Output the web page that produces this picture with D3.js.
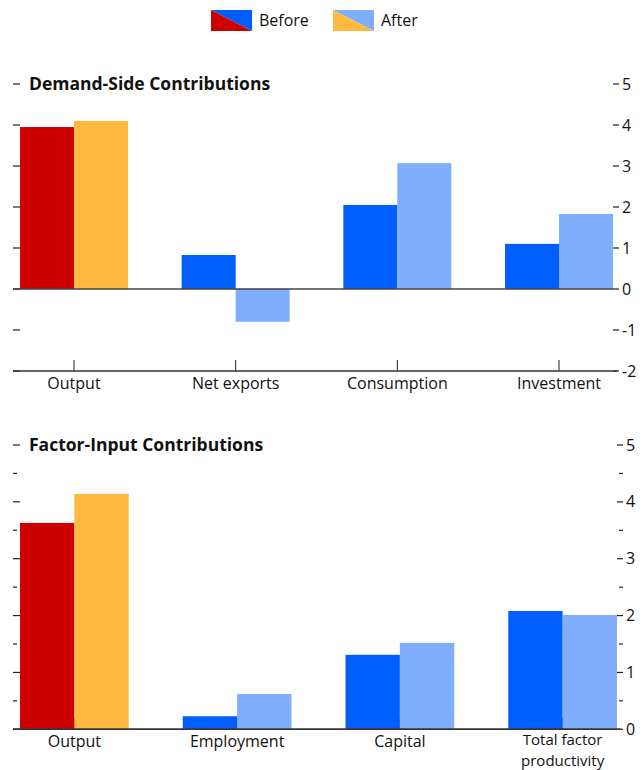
<!DOCTYPE html>
<html><head><meta charset="utf-8">
<script src="https://cdn.jsdelivr.net/npm/d3@7"></script>
<style>body{margin:0;background:#fff}svg{display:block}text{font-family:"Open Sans",sans-serif;fill:#111}</style>
</head><body>
<script>
const seriesNames = ["Before", "After"];
const demandCats = ["Output", "Net exports", "Consumption", "Investment"];
const demandBefore = [3.95, 0.83, 2.05, 1.1];
const demandAfter = [4.1, -0.8, 3.07, 1.83];
const factorCats = ["Output", "Employment", "Capital", "Total factor|productivity"];
const factorBefore = [3.63, 0.23, 1.31, 2.08];
const factorAfter = [4.14, 0.62, 1.52, 2.01];
const demandTicks = [-2, -1, 0, 1, 2, 3, 4, 5];
const factorTicks = [0, 1, 2, 3, 4, 5];
const factorMinor = [0.5, 1.5, 2.5, 3.5, 4.5];

const C = {red:"#CC0000", orange:"#FFB940", blue:"#005EFF", lblue:"#80AEFF"};

const W = 644, H = 770;
const svg = d3.select("body").append("svg").attr("width", W).attr("height", H);

// legend
const leg = svg.append("g");
[[211, C.red, C.blue, "Before"], [333, C.orange, C.lblue, "After"]].forEach(([x, c1, c2, t]) => {
  const w = 41, h = 21, y = 10;
  leg.append("polygon").attr("points", `${x},${y} ${x+w},${y} ${x+w},${y+h}`).attr("fill", c2);
  leg.append("polygon").attr("points", `${x},${y} ${x},${y+h} ${x+w},${y+h}`).attr("fill", c1);
  leg.append("text").attr("x", x + w + 7).attr("y", y + h/2).attr("dy", "0.35em")
    .attr("font-size", 16).text(t);
});

function panel(opt) {
  const g = svg.append("g");
  const x = d3.scaleBand().domain(opt.cats).range([20, opt.right]).paddingInner(0.332).paddingOuter(0);
  const y = d3.scaleLinear().domain(opt.domain).range([opt.bottom, opt.top]);
  const sub = d3.scaleBand().domain(seriesNames).range([0, x.bandwidth()]);

  // title
  g.append("text").attr("x", 29).attr("y", y(5)).attr("dy", "0.35em")
    .attr("font-size", 17.5).attr("font-weight", "bold").text(opt.title);

  // category ticks (behind bars)
  g.selectAll(".ct").data(opt.cats).join("line")
    .attr("x1", d => x(d) + x.bandwidth()/2).attr("x2", d => x(d) + x.bandwidth()/2)
    .attr("y1", opt.bottom - 11).attr("y2", opt.bottom).attr("stroke", "#222").attr("stroke-width", 1);

  // bars
  opt.cats.forEach((c, i) => {
    [[opt.before[i], "Before", i === 0 ? C.red : C.blue], [opt.after[i], "After", i === 0 ? C.orange : C.lblue]].forEach(([v, s, col]) => {
      g.append("rect").attr("x", x(c) + sub(s)).attr("width", sub.bandwidth())
        .attr("y", y(Math.max(0, v))).attr("height", Math.abs(y(v) - y(0))).attr("fill", col);
    });
  });

  // left ticks
  g.selectAll(".lt").data(opt.ticks).join("line")
    .attr("x1", 13).attr("x2", 20).attr("y1", d => y(d)).attr("y2", d => y(d))
    .attr("stroke", "#222").attr("stroke-width", 1.2);
  g.selectAll(".lm").data(opt.minor).join("line")
    .attr("x1", 13).attr("x2", 17).attr("y1", d => y(d)).attr("y2", d => y(d))
    .attr("stroke", "#222").attr("stroke-width", 1.2);
  // right ticks
  g.selectAll(".rt").data(opt.ticks).join("line")
    .attr("x1", opt.right).attr("x2", opt.right + 6).attr("y1", d => y(d)).attr("y2", d => y(d))
    .attr("stroke", "#222").attr("stroke-width", 1.2);
  g.selectAll(".rm").data(opt.minor).join("line")
    .attr("x1", opt.right + 2).attr("x2", opt.right + 6).attr("y1", d => y(d)).attr("y2", d => y(d))
    .attr("stroke", "#222").attr("stroke-width", 1.2);
  g.selectAll(".rl").data(opt.ticks).join("text")
    .attr("x", opt.right + 9).attr("y", d => y(d)).attr("dy", "0.35em")
    .attr("font-size", 16).text(d => d);

  // zero line and bottom axis
  g.append("line").attr("x1", 13).attr("x2", opt.right).attr("y1", y(0)).attr("y2", y(0))
    .attr("stroke", "#444").attr("stroke-width", 1.5);
  g.append("line").attr("x1", 13).attr("x2", opt.right + 4).attr("y1", opt.bottom).attr("y2", opt.bottom)
    .attr("stroke", "#333").attr("stroke-width", 1.5);

  // category labels
  opt.cats.forEach(c => {
    const lines = c.split("|");
    const multi = lines.length > 1;
    lines.forEach((l, k) => g.append("text").attr("text-anchor", "middle")
      .attr("font-size", multi ? 15 : 16)
      .attr("x", x(c) + x.bandwidth()/2)
      .attr("y", opt.bottom + (multi ? 16 + k * 20.5 : 18)).text(l));
  });
}

panel({title: "Demand-Side Contributions", cats: demandCats, before: demandBefore, after: demandAfter,
  domain: [-2, 5], top: 84, bottom: 371, right: 613, ticks: demandTicks, minor: []});
panel({title: "Factor-Input Contributions", cats: factorCats, before: factorBefore, after: factorAfter,
  domain: [0, 5], top: 445, bottom: 729.3, right: 617, ticks: factorTicks, minor: factorMinor});
</script>
</body></html>
